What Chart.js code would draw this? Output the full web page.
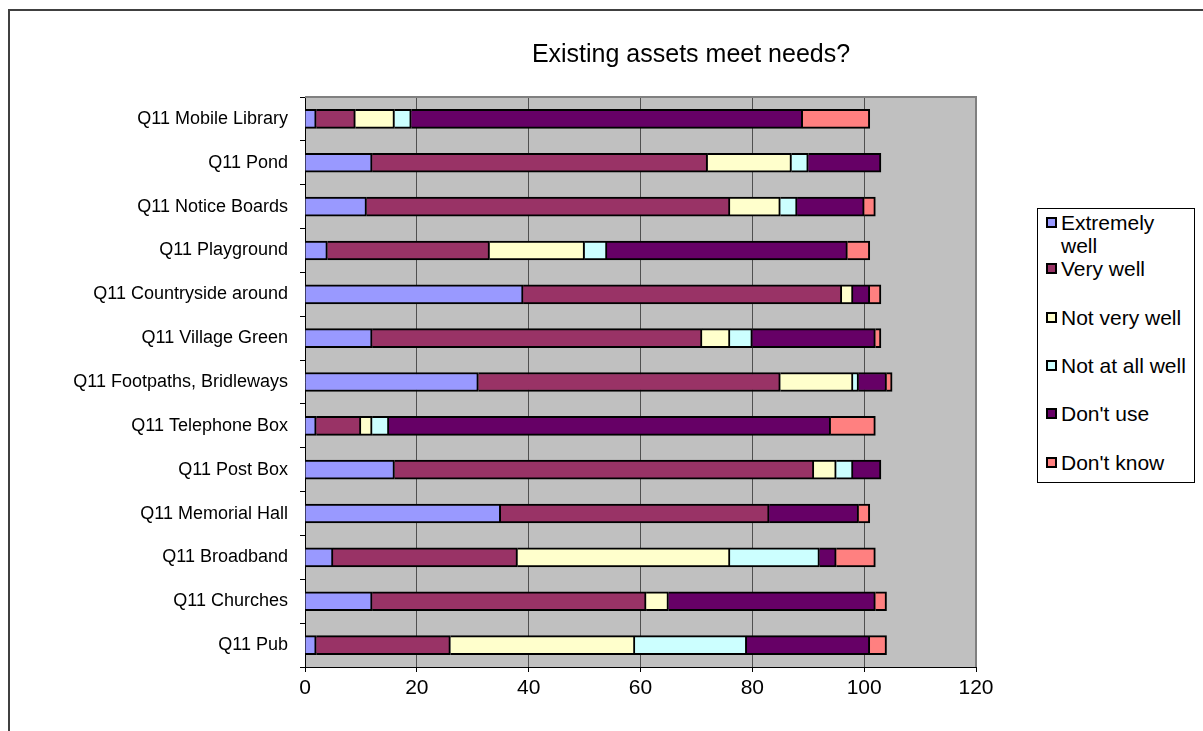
<!DOCTYPE html>
<html>
<head>
<meta charset="utf-8">
<script src="https://cdn.jsdelivr.net/npm/chart.js@4"></script>
<style>
  html, body { margin: 0; padding: 0; background: #fff; overflow: hidden; }
  body { width: 1203px; height: 731px; position: relative; font-family: "Liberation Sans", Arial, sans-serif; }
  #frame { position: absolute; left: 8px; top: 9px; width: 1300px; height: 800px; border-left: 2px solid #404040; border-top: 2px solid #404040; }
  #chart { position: absolute; left: 0; top: 0; }
  #title { position: absolute; left: 441px; width: 500px; top: 38px; line-height: 30px; font-size: 25px; text-align: center; color: #000; }
  #legend { position: absolute; left: 1037px; top: 208px; width: 156px; height: 273px; border: 1px solid #000; background: #fff; }
  .item { position: absolute; left: 8px; width: 146px; font-size: 21px; line-height: 23px; color: #000; }
  .item span.box { position: absolute; left: 0; top: 6px; width: 7px; height: 7px; border: 2px solid #000; }
  .item span.txt { display: block; margin-left: 15px; }
</style>
</head>
<body>
<div id="frame"></div>
<canvas id="chart" width="1203" height="731"></canvas>
<div id="title">Existing assets meet needs?</div>
<div id="legend"></div>
<script>
var categories = ['Q11 Mobile Library', 'Q11 Pond', 'Q11 Notice Boards', 'Q11 Playground',
  'Q11 Countryside around', 'Q11 Village Green', 'Q11 Footpaths, Bridleways', 'Q11 Telephone Box',
  'Q11 Post Box', 'Q11 Memorial Hall', 'Q11 Broadband', 'Q11 Churches', 'Q11 Pub'];

var extremelyWell = [2, 12, 11, 4, 39, 12, 31, 2, 16, 35, 5, 12, 2];
var veryWell      = [7, 60, 65, 29, 57, 59, 54, 8, 75, 48, 33, 49, 24];
var notVeryWell   = [7, 15, 9, 17, 2, 5, 13, 2, 4, 0, 38, 4, 33];
var notAtAllWell  = [3, 3, 3, 4, 0, 4, 1, 3, 3, 0, 16, 0, 20];
var dontUse       = [70, 13, 12, 43, 3, 22, 5, 79, 5, 16, 3, 37, 22];
var dontKnow      = [12, 0, 2, 4, 2, 1, 1, 8, 0, 2, 7, 2, 3];

var xTicks = [0, 20, 40, 60, 80, 100, 120];

var seriesNames = ['Extremely well', 'Very well', 'Not very well', 'Not at all well', "Don't use", "Don't know"];
var seriesData = [extremelyWell, veryWell, notVeryWell, notAtAllWell, dontUse, dontKnow];
var seriesColors = ['#9999FF', '#993366', '#FFFFCC', '#CCFFFF', '#660066', '#FF8080'];

var FONT = '"Liberation Sans", Arial, sans-serif';

// grey plot area + border on top and right like excel
var plotArea = {
  id: 'plotArea',
  beforeDraw: function(chart) {
    var a = chart.chartArea, c = chart.ctx;
    c.save();
    c.fillStyle = '#C0C0C0';
    c.fillRect(a.left, a.top, a.right - a.left, a.bottom - a.top);
    c.restore();
  },
  afterDraw: function(chart) {
    var a = chart.chartArea, c = chart.ctx;
    c.save();
    c.strokeStyle = '#808080';
    c.lineWidth = 2;
    c.beginPath();
    c.moveTo(a.left, a.top);
    c.lineTo(a.right, a.top);
    c.lineTo(a.right, a.bottom);
    c.stroke();
    c.restore();
  }
};

var datasets = seriesNames.map(function(name, i) {
  return {
    label: name,
    data: seriesData[i],
    backgroundColor: seriesColors[i],
    borderColor: '#000',
    borderWidth: 2,
    barThickness: 19
  };
});

var ctx = document.getElementById('chart');

new Chart(ctx, {
  type: 'bar',
  data: { labels: categories, datasets: datasets },
  options: {
    indexAxis: 'y',
    responsive: false,
    animation: false,
    layout: { padding: { top: 97, right: 227, left: 0, bottom: 0 } },
    plugins: {
      legend: { display: false },
      title: { display: false },
      tooltip: { enabled: false }
    },
    scales: {
      x: {
        stacked: true,
        min: 0,
        max: 120,
        afterBuildTicks: function(s) { s.ticks = xTicks.map(function(v) { return { value: v }; }); },
        ticks: { color: '#000', font: { family: FONT, size: 21 }, padding: 4, maxRotation: 0 },
        grid: { color: '#505050', tickColor: '#000', tickLength: 5 },
        border: { color: '#000', width: 1 },
        afterFit: function(s) { s.height = 64; }
      },
      y: {
        stacked: true,
        ticks: { color: '#000', font: { family: FONT, size: 18 }, padding: 12 },
        grid: { offset: true, drawOnChartArea: false, tickColor: '#000', tickLength: 5 },
        border: { color: '#000', width: 1 },
        afterFit: function(s) { s.width = 305; }
      }
    }
  },
  plugins: [plotArea]
});

// legend as html, built from the series
var legend = document.getElementById('legend');
var rowTops = [2, 48, 97, 145, 193, 242];
seriesNames.forEach(function(name, i) {
  var d = document.createElement('div');
  d.className = 'item';
  d.style.top = rowTops[i] + 'px';
  d.innerHTML = '<span class="box" style="background:' + seriesColors[i] + '"></span><span class="txt">' + name + '</span>';
  legend.appendChild(d);
});
</script>
</body>
</html>
